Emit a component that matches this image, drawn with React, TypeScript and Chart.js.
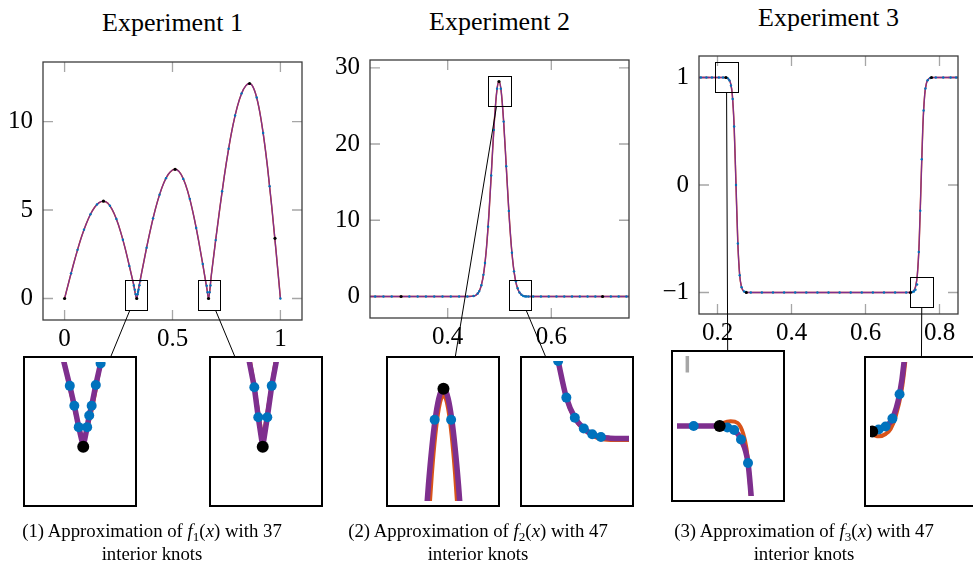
import React, { useEffect, useRef } from 'react';
import { Chart, registerables } from 'chart.js';

Chart.register(...registerables);

// ================= DATA =================
// ---- Experiment 1 : f1 ----
const E1_X = [0, 0.02, 0.04, 0.06, 0.08, 0.1, 0.12, 0.14, 0.16, 0.18, 0.2, 0.22, 0.24, 0.26, 0.28, 0.3, 0.32, 0.3343, 0.34, 0.36, 0.38, 0.4, 0.42, 0.44, 0.46, 0.48, 0.5, 0.512, 0.52, 0.54, 0.56, 0.58, 0.6, 0.62, 0.64, 0.66, 0.667, 0.68, 0.7, 0.72, 0.74, 0.76, 0.78, 0.8, 0.82, 0.84, 0.857, 0.88, 0.9, 0.92, 0.94, 0.96, 0.98, 1];
const E1_Y = [0, 0.95, 1.88, 2.75, 3.54, 4.21, 4.76, 5.17, 5.42, 5.5, 5.39, 5.04, 4.49, 3.75, 2.86, 1.84, 0.79, 0, 0.37, 1.64, 2.87, 4.01, 5.02, 5.87, 6.54, 7.01, 7.26, 7.3, 7.28, 7.01, 6.45, 5.63, 4.57, 3.33, 1.95, 0.5, 0, 1.33, 3.3, 5.17, 6.92, 8.46, 9.78, 10.83, 11.59, 12.03, 12.15, 11.76, 10.82, 9.35, 7.45, 5.17, 2.65, 0];
const E1_KNOT_X = [0.03, 0.06, 0.09, 0.12, 0.15, 0.21, 0.24, 0.27, 0.3, 0.3206, 0.3252, 0.3297, 0.3383, 0.3404, 0.3429, 0.3471, 0.352, 0.38, 0.41, 0.44, 0.47, 0.55, 0.58, 0.61, 0.64, 0.6587, 0.6627, 0.6718, 0.6763, 0.7, 0.73, 0.76, 0.79, 0.82, 0.89, 0.92, 0.95, 1];
const E1_KNOT_Y = [1.42, 2.75, 3.89, 4.76, 5.31, 5.24, 4.49, 3.32, 1.84, 0.74, 0.499, 0.238, 0.238, 0.38, 0.499, 0.751, 1.012, 2.87, 4.53, 5.87, 6.8, 6.76, 5.63, 3.98, 1.95, 0.722, 0.358, 0.358, 0.74, 3.3, 6.06, 8.46, 10.34, 11.59, 11.36, 9.35, 6.35, 0];
const E1_MARK_X = [0, 0.18, 0.3343, 0.512, 0.667, 0.857, 0.975];
const E1_MARK_Y = [0, 5.5, 0, 7.3, 0, 12.15, 3.4];
const E1_XRANGE = [-0.1, 1.1];
const E1_YRANGE = [-1.215, 13.365];
const E1_XTICKS = [0, 0.5, 1];
const E1_XLABELS = ['0', '0.5', '1'];
const E1_YTICKS = [0, 5, 10];
const E1_YLABELS = ['0', '5', '10'];

// zoom A of experiment 1
const E1A_XRANGE = [0.279, 0.383];
const E1A_YRANGE = [-0.66, 1.03];
const E1A_F_X = [0.3115, 0.3146, 0.3206, 0.3252, 0.3297, 0.3343, 0.3383, 0.3404, 0.3429, 0.3471, 0.352, 0.3545];
const E1A_F_Y = [1.2, 1.03, 0.74, 0.499, 0.238, 0, 0.238, 0.38, 0.499, 0.751, 1.012, 1.2];
const E1A_S_X = [0.3118, 0.3206, 0.3262, 0.3325, 0.3343, 0.3361, 0.3425, 0.348, 0.3545];
const E1A_S_Y = [1.2, 0.72, 0.42, 0.12, 0.07, 0.12, 0.42, 0.75, 1.2];
const E1A_KNOT_X = [0.3206, 0.3252, 0.3297, 0.3383, 0.3404, 0.3429, 0.3471, 0.352];
const E1A_KNOT_Y = [0.74, 0.499, 0.238, 0.238, 0.38, 0.499, 0.751, 1.012];
const E1A_MARK_X = [0.3343];
const E1A_MARK_Y = [0];

// zoom B of experiment 1
const E1B_XRANGE = [0.619, 0.722];
const E1B_YRANGE = [-0.66, 1.03];
const E1B_F_X = [0.651, 0.6537, 0.6587, 0.6627, 0.6672, 0.6718, 0.6763, 0.6808, 0.6835];
const E1B_F_Y = [1.25, 1.03, 0.722, 0.358, 0, 0.358, 0.74, 1.03, 1.25];
const E1B_S_X = [0.6515, 0.659, 0.6652, 0.6672, 0.6692, 0.6757, 0.683];
const E1B_S_Y = [1.25, 0.7, 0.22, 0.13, 0.22, 0.7, 1.25];
const E1B_KNOT_X = [0.6587, 0.6627, 0.6718, 0.6763];
const E1B_KNOT_Y = [0.722, 0.358, 0.358, 0.74];
const E1B_MARK_X = [0.6672];
const E1B_MARK_Y = [0];

// ---- Experiment 2 : f2 ----
const E2_X = [0.25, 0.3, 0.35, 0.4, 0.44, 0.45, 0.455, 0.46, 0.465, 0.47, 0.475, 0.48, 0.485, 0.49, 0.495, 0.499, 0.503, 0.508, 0.513, 0.518, 0.523, 0.528, 0.533, 0.538, 0.543, 0.548, 0.555, 0.56, 0.6, 0.65, 0.7, 0.75];
const E2_Y = [0, 0, 0, 0, 0, 0.06, 0.2, 0.58, 1.48, 3.3, 6.49, 11.23, 17.1, 22.94, 27.07, 28.2, 27.07, 22.94, 17.1, 11.23, 6.49, 3.3, 1.48, 0.58, 0.2, 0.06, 0, 0, 0, 0, 0, 0];
const E2_KNOT_X = [0.26, 0.276, 0.292, 0.326, 0.342, 0.358, 0.374, 0.39, 0.406, 0.422, 0.438, 0.45, 0.458, 0.461, 0.465, 0.469, 0.472, 0.478, 0.484, 0.489, 0.4954, 0.5025, 0.508, 0.513, 0.518, 0.524, 0.528, 0.5317, 0.5351, 0.5386, 0.5423, 0.5458, 0.5494, 0.552, 0.556, 0.565, 0.58, 0.595, 0.61, 0.625, 0.64, 0.655, 0.67, 0.685, 0.715, 0.73, 0.745];
const E2_KNOT_Y = [0, 0, 0, 0, 0, 0, 0, 0, 0, 0, 0, 0.06, 0.39, 0.71, 1.48, 2.84, 4.39, 9.16, 15.88, 21.85, 27.26, 27.26, 22.94, 17.1, 11.23, 5.73, 3.3, 2.0, 1.08, 0.52, 0.22, 0.06, 0, 0, 0, 0, 0, 0, 0, 0, 0, 0, 0, 0, 0, 0, 0];
const E2_MARK_X = [0.31, 0.499, 0.699];
const E2_MARK_Y = [0, 28.2, 0];
const E2_XRANGE = [0.25, 0.75];
const E2_YRANGE = [-2.82, 31.02];
const E2_XTICKS = [0.4, 0.6];
const E2_XLABELS = ['0.4', '0.6'];
const E2_YTICKS = [0, 10, 20, 30];
const E2_YLABELS = ['0', '10', '20', '30'];

const E2A_XRANGE = [0.477, 0.521];
const E2A_YRANGE = [24.95, 28.9];
const E2A_F_X = [0.4897, 0.4912, 0.4927, 0.4942, 0.4957, 0.4972, 0.4982, 0.4992, 0.5002, 0.5012, 0.5027, 0.5042, 0.5057, 0.5072, 0.5087];
const E2A_F_Y = [22.58, 24.07, 25.39, 26.47, 27.31, 27.87, 28.07, 28.14, 28.07, 27.87, 27.31, 26.47, 25.39, 24.07, 22.58];
const E2A_S_X = [0.4897, 0.4912, 0.4927, 0.4942, 0.4957, 0.4972, 0.4982, 0.4992, 0.5002, 0.5012, 0.5027, 0.5042, 0.5057, 0.5072, 0.5087];
const E2A_S_Y = [20.69, 22.58, 24.28, 25.72, 26.83, 27.58, 27.86, 27.95, 27.86, 27.58, 26.83, 25.72, 24.28, 22.58, 20.69];
const E2A_KNOT_X = [0.4954, 0.5025];
const E2A_KNOT_Y = [27.26, 27.26];
const E2A_MARK_X = [0.4992];
const E2A_MARK_Y = [28.14];

const E2B_XRANGE = [0.518, 0.561];
const E2B_YRANGE = [-1.83, 2.1];
const E2B_F_X = [0.5295, 0.5317, 0.5351, 0.5386, 0.5423, 0.5458, 0.5494, 0.553, 0.558, 0.565];
const E2B_F_Y = [2.8, 2.1, 1.08, 0.52, 0.22, 0.06, -0.02, -0.05, -0.06, -0.06];
const E2B_S_X = [0.5298, 0.532, 0.5355, 0.539, 0.543, 0.5465, 0.55, 0.555, 0.565];
const E2B_S_Y = [2.8, 2.0, 0.98, 0.45, 0.15, 0.0, -0.08, -0.1, -0.1];
const E2B_KNOT_X = [0.5317, 0.5351, 0.5386, 0.5423, 0.5458, 0.5494];
const E2B_KNOT_Y = [2.1, 1.08, 0.52, 0.22, 0.06, -0.02];
const E2B_MARK_X: number[] = [];
const E2B_MARK_Y: number[] = [];

// ---- Experiment 3 : f3 ----
const E3_X = [0.15, 0.2, 0.215, 0.22, 0.225, 0.23, 0.235, 0.24, 0.245, 0.25, 0.255, 0.26, 0.265, 0.27, 0.275, 0.28, 0.29, 0.5, 0.71, 0.72, 0.725, 0.73, 0.735, 0.74, 0.745, 0.75, 0.755, 0.76, 0.765, 0.77, 0.775, 0.78, 0.79, 0.85];
const E3_Y = [1, 1, 1, 0.999, 0.995, 0.985, 0.95, 0.84, 0.544, 0, -0.544, -0.84, -0.95, -0.985, -0.995, -0.999, -1, -1, -1, -0.999, -0.995, -0.985, -0.95, -0.84, -0.544, 0, 0.544, 0.84, 0.95, 0.985, 0.995, 0.999, 1, 1];
const E3_KNOT_X = [0.155, 0.17, 0.185, 0.2038, 0.215, 0.224, 0.2281, 0.2322, 0.2364, 0.241, 0.245, 0.25, 0.255, 0.26, 0.265, 0.272, 0.277, 0.29, 0.32, 0.35, 0.38, 0.41, 0.44, 0.47, 0.5, 0.53, 0.56, 0.59, 0.62, 0.65, 0.68, 0.71, 0.7268, 0.731, 0.7351, 0.7394, 0.744, 0.748, 0.752, 0.757, 0.762, 0.768, 0.775, 0.79, 0.81, 0.83, 0.845];
const E3_KNOT_Y = [1, 1, 1, 1, 1, 0.997, 0.992, 0.973, 0.926, 0.8, 0.544, 0, -0.544, -0.84, -0.95, -0.991, -0.996, -1, -1, -1, -1, -1, -1, -1, -1, -1, -1, -1, -1, -1, -1, -1, -0.996, -0.99, -0.974, -0.925, -0.623, -0.24, 0.24, 0.693, 0.898, 0.975, 0.995, 1, 1, 1, 1];
const E3_MARK_X = [0.2227, 0.278, 0.7216, 0.7784];
const E3_MARK_Y = [1, -1, -1, 1];
const E3_XRANGE = [0.15, 0.85];
const E3_YRANGE = [-1.2, 1.2];
const E3_XTICKS = [0.2, 0.4, 0.6, 0.8];
const E3_XLABELS = ['0.2', '0.4', '0.6', '0.8'];
const E3_YTICKS = [-1, 0, 1];
const E3_YLABELS = ['\u22121', '0', '1'];

const E3A_XRANGE = [0.1938, 0.255];
const E3A_YRANGE = [0.86, 1.14];
const E3A_F_X = [0.19, 0.2038, 0.2194, 0.224, 0.2281, 0.2322, 0.2364, 0.2383, 0.2392];
const E3A_F_Y = [1, 1, 1, 0.997, 0.992, 0.973, 0.926, 0.86, 0.82];
const E3A_S_X = [0.19, 0.218, 0.2213, 0.226, 0.2302, 0.2335, 0.2355, 0.237, 0.238, 0.2388];
const E3A_S_Y = [1, 1, 1.006, 1.0096, 1.006, 0.985, 0.955, 0.91, 0.86, 0.82];
const E3A_KNOT_X = [0.2038, 0.224, 0.2281, 0.2322, 0.2364];
const E3A_KNOT_Y = [1, 0.997, 0.992, 0.973, 0.926];
const E3A_MARK_X = [0.2194];
const E3A_MARK_Y = [1];

const E3B_XRANGE = [0.7216, 0.783];
const E3B_YRANGE = [-1.14, -0.86];
const E3B_F_X = [0.715, 0.7229, 0.7268, 0.731, 0.7351, 0.7394, 0.7421, 0.743];
const E3B_F_Y = [-1, -1, -0.996, -0.99, -0.974, -0.925, -0.86, -0.82];
const E3B_S_X = [0.715, 0.7229, 0.727, 0.731, 0.734, 0.737, 0.7405, 0.7428, 0.7438];
const E3B_S_Y = [-1, -1.006, -1.0098, -1.005, -0.995, -0.97, -0.92, -0.86, -0.82];
const E3B_KNOT_X = [0.7268, 0.731, 0.7351, 0.7394];
const E3B_KNOT_Y = [-0.996, -0.99, -0.974, -0.925];
const E3B_MARK_X = [0.7229];
const E3B_MARK_Y = [-1];

// ================= STYLE / LAYOUT =================
const PURPLE = '#7E2F8E';
const ORANGE = '#D95319';
const BLUE = '#0072BD';
const SERIF = '"Liberation Serif", "Times New Roman", serif';
const TICK_FONT = { family: SERIF, size: 25, lineHeight: 1.2 };

type Rect = { left: number; top: number; w: number; h: number };

const MAIN_RECTS: Rect[] = [
  { left: 43, top: 62, w: 259, h: 258 },
  { left: 370, top: 60, w: 259, h: 258 },
  { left: 699, top: 56, w: 259, h: 258 },
];
const INSET_RECTS: Rect[][] = [
  [{ left: 23, top: 356, w: 114, h: 151 }, { left: 209, top: 356, w: 114, h: 151 }],
  [{ left: 386, top: 356, w: 114, h: 151 }, { left: 520, top: 356, w: 114, h: 151 }],
  [{ left: 671, top: 350, w: 114, h: 152 }, { left: 864, top: 356, w: 114, h: 151 }],
];
const TITLE_BASE = [32, 30.5, 26.5];
const CAPTION_CX = [152, 478, 804];
const AX_W = 50, AX_H = 45, PAD_T = 28, PAD_R = 12;
const TICK_LEN = 10;

const PANELS: any[] = [
  {
    title: 'Experiment 1', fn: '1', knots: 37,
    main: [E1_X, E1_Y, E1_X, E1_Y, E1_KNOT_X, E1_KNOT_Y, E1_MARK_X, E1_MARK_Y],
    xr: E1_XRANGE, yr: E1_YRANGE, xt: E1_XTICKS, xl: E1_XLABELS, yt: E1_YTICKS, yl: E1_YLABELS,
    insets: [
      { xr: E1A_XRANGE, yr: E1A_YRANGE, smooth: false, s: [E1A_F_X, E1A_F_Y, E1A_S_X, E1A_S_Y, E1A_KNOT_X, E1A_KNOT_Y, E1A_MARK_X, E1A_MARK_Y] },
      { xr: E1B_XRANGE, yr: E1B_YRANGE, smooth: false, s: [E1B_F_X, E1B_F_Y, E1B_S_X, E1B_S_Y, E1B_KNOT_X, E1B_KNOT_Y, E1B_MARK_X, E1B_MARK_Y] },
    ],
  },
  {
    title: 'Experiment 2', fn: '2', knots: 47,
    main: [E2_X, E2_Y, E2_X, E2_Y, E2_KNOT_X, E2_KNOT_Y, E2_MARK_X, E2_MARK_Y],
    xr: E2_XRANGE, yr: E2_YRANGE, xt: E2_XTICKS, xl: E2_XLABELS, yt: E2_YTICKS, yl: E2_YLABELS,
    insets: [
      { xr: E2A_XRANGE, yr: E2A_YRANGE, smooth: true, s: [E2A_F_X, E2A_F_Y, E2A_S_X, E2A_S_Y, E2A_KNOT_X, E2A_KNOT_Y, E2A_MARK_X, E2A_MARK_Y] },
      { xr: E2B_XRANGE, yr: E2B_YRANGE, smooth: true, s: [E2B_F_X, E2B_F_Y, E2B_S_X, E2B_S_Y, E2B_KNOT_X, E2B_KNOT_Y, E2B_MARK_X, E2B_MARK_Y] },
    ],
  },
  {
    title: 'Experiment 3', fn: '3', knots: 47,
    main: [E3_X, E3_Y, E3_X, E3_Y, E3_KNOT_X, E3_KNOT_Y, E3_MARK_X, E3_MARK_Y],
    xr: E3_XRANGE, yr: E3_YRANGE, xt: E3_XTICKS, xl: E3_XLABELS, yt: E3_YTICKS, yl: E3_YLABELS,
    insets: [
      { xr: E3A_XRANGE, yr: E3A_YRANGE, smooth: true, s: [E3A_F_X, E3A_F_Y, E3A_S_X, E3A_S_Y, E3A_KNOT_X, E3A_KNOT_Y, E3A_MARK_X, E3A_MARK_Y] },
      { xr: E3B_XRANGE, yr: E3B_YRANGE, smooth: true, s: [E3B_F_X, E3B_F_Y, E3B_S_X, E3B_S_Y, E3B_KNOT_X, E3B_KNOT_Y, E3B_MARK_X, E3B_MARK_Y] },
    ],
  },
];

const pts = (xs: number[], ys: number[]) => xs.map((x, i) => ({ x, y: ys[i] }));

function makeSets(s: number[][], big: boolean, smooth: boolean) {
  const [fx, fy, sx, sy, kx, ky, mx, my] = s;
  const lineMode: any = smooth ? { cubicInterpolationMode: 'monotone' } : { tension: 0 };
  const joins: any = { borderJoinStyle: 'round', borderCapStyle: 'round' };
  return [
    { data: pts(mx, my), showLine: false, pointRadius: big ? 6 : 1.6, pointBackgroundColor: '#000', pointBorderWidth: 0, clip: 0 },
    { data: pts(kx, ky), showLine: false, pointRadius: big ? 5 : 1.2, pointBackgroundColor: BLUE, pointBorderWidth: 0, clip: 0 },
    { data: pts(fx, fy), borderColor: PURPLE, borderWidth: big ? 5.5 : 1.3, pointRadius: 0, fill: false, clip: 0, ...joins, ...lineMode },
    { data: pts(sx, sy), borderColor: ORANGE, borderWidth: big ? 4 : 1.5, pointRadius: 0, fill: false, clip: 0, ...joins, ...lineMode },
  ];
}

function mainDeco(xt: number[], yt: number[]) {
  return {
    id: 'mainDeco',
    beforeDatasetsDraw(chart: any) {
      const { ctx, chartArea: a, scales } = chart;
      ctx.save();
      ctx.strokeStyle = '#a6a6a6';
      ctx.lineWidth = 1.3;
      ctx.beginPath();
      xt.forEach((v) => {
        const p = scales.x.getPixelForValue(v);
        ctx.moveTo(p, a.top); ctx.lineTo(p, a.top + TICK_LEN);
        ctx.moveTo(p, a.bottom); ctx.lineTo(p, a.bottom - TICK_LEN);
      });
      yt.forEach((v) => {
        const p = scales.y.getPixelForValue(v);
        ctx.moveTo(a.left, p); ctx.lineTo(a.left + TICK_LEN, p);
        ctx.moveTo(a.right, p); ctx.lineTo(a.right - TICK_LEN, p);
      });
      ctx.stroke();
      ctx.restore();
    },
    afterDatasetsDraw(chart: any) {
      const { ctx, chartArea: a } = chart;
      ctx.save();
      ctx.strokeStyle = '#3c3c3c';
      ctx.lineWidth = 1.3;
      ctx.strokeRect(a.left, a.top, a.right - a.left, a.bottom - a.top);
      ctx.restore();
    },
  };
}

function insetDeco(p: any, mr: Rect) {
  return {
    id: 'insetDeco',
    beforeDatasetsDraw(chart: any) {
      const { ctx, chartArea: a, scales } = chart;
      const X = scales.x, Y = scales.y;
      const dx = (TICK_LEN * (p.xr[1] - p.xr[0])) / mr.w;
      const dy = (TICK_LEN * (p.yr[1] - p.yr[0])) / mr.h;
      ctx.save();
      ctx.beginPath();
      ctx.rect(a.left, a.top, a.right - a.left, a.bottom - a.top);
      ctx.clip();
      ctx.strokeStyle = '#a6a6a6';
      ctx.lineWidth = 3.5;
      ctx.beginPath();
      const seg = (x0: number, y0: number, x1: number, y1: number) => {
        ctx.moveTo(X.getPixelForValue(x0), Y.getPixelForValue(y0));
        ctx.lineTo(X.getPixelForValue(x1), Y.getPixelForValue(y1));
      };
      p.xt.forEach((v: number) => { seg(v, p.yr[1], v, p.yr[1] - dy); seg(v, p.yr[0], v, p.yr[0] + dy); });
      p.yt.forEach((v: number) => { seg(p.xr[0], v, p.xr[0] + dx, v); seg(p.xr[1], v, p.xr[1] - dx, v); });
      ctx.stroke();
      ctx.restore();
    },
    afterDraw(chart: any) {
      const { ctx, width, height } = chart;
      ctx.save();
      ctx.strokeStyle = '#000';
      ctx.lineWidth = 2;
      ctx.strokeRect(1, 1, width - 2, height - 2);
      ctx.restore();
    },
  };
}

function exitT(r: Rect, px: number, py: number, dx: number, dy: number) {
  let t = Infinity;
  if (dx > 0) t = Math.min(t, (r.left + r.w - px) / dx);
  if (dx < 0) t = Math.min(t, (r.left - px) / dx);
  if (dy > 0) t = Math.min(t, (r.top + r.h - py) / dy);
  if (dy < 0) t = Math.min(t, (r.top - py) / dy);
  return t;
}

export default function App() {
  const mainRefs = useRef<(HTMLCanvasElement | null)[]>([]);
  const insetRefs = useRef<(HTMLCanvasElement | null)[]>([]);
  const overlayRef = useRef<HTMLCanvasElement | null>(null);

  useEffect(() => {
    const charts: Chart[] = [];
    const mains: any[] = [];
    PANELS.forEach((p, i) => {
      const cv = mainRefs.current[i]!;
      const ch = new Chart(cv, {
        type: 'line',
        data: { datasets: makeSets(p.main, false, true) as any },
        options: {
          responsive: false,
          animation: false,
          events: [],
          layout: { padding: { top: PAD_T, right: PAD_R, left: 0, bottom: 0 } },
          plugins: { legend: { display: false }, tooltip: { enabled: false } },
          scales: {
            x: {
              type: 'linear', min: p.xr[0], max: p.xr[1], bounds: 'data',
              grid: { display: false, drawTicks: false }, border: { display: false },
              afterBuildTicks: (s: any) => { s.ticks = p.xt.map((v: number) => ({ value: v })); },
              afterFit: (s: any) => { s.height = AX_H; },
              ticks: {
                autoSkip: false, maxRotation: 0, minRotation: 0, padding: 4, color: '#000', font: TICK_FONT,
                callback: (v: any) => { const k = p.xt.indexOf(v); return k >= 0 ? p.xl[k] : ''; },
              },
            },
            y: {
              type: 'linear', min: p.yr[0], max: p.yr[1], bounds: 'data',
              grid: { display: false, drawTicks: false }, border: { display: false },
              afterBuildTicks: (s: any) => { s.ticks = p.yt.map((v: number) => ({ value: v })); },
              afterFit: (s: any) => { s.width = AX_W; },
              ticks: {
                autoSkip: false, padding: 10, color: '#000', font: TICK_FONT,
                callback: (v: any) => { const k = p.yt.indexOf(v); return k >= 0 ? p.yl[k] : ''; },
              },
            },
          },
        } as any,
        plugins: [mainDeco(p.xt, p.yt)],
      });
      charts.push(ch);
      mains.push(ch);

      p.insets.forEach((ins: any, j: number) => {
        const icv = insetRefs.current[i * 2 + j]!;
        const ich = new Chart(icv, {
          type: 'line',
          data: { datasets: makeSets(ins.s, true, ins.smooth) as any },
          options: {
            responsive: false,
            animation: false,
            events: [],
            layout: { padding: 0 },
            plugins: { legend: { display: false }, tooltip: { enabled: false } },
            scales: {
              x: { type: 'linear', display: false, min: ins.xr[0], max: ins.xr[1], bounds: 'data' },
              y: { type: 'linear', display: false, min: ins.yr[0], max: ins.yr[1], bounds: 'data' },
            },
          } as any,
          plugins: [insetDeco(p, MAIN_RECTS[i])],
        });
        charts.push(ich);
      });
    });

    // spy boxes + connectors
    const ov = overlayRef.current!.getContext('2d')!;
    ov.clearRect(0, 0, 973, 565);
    ov.strokeStyle = '#000';
    ov.lineWidth = 1;
    PANELS.forEach((p, i) => {
      const ch = mains[i];
      const r = MAIN_RECTS[i];
      const cl = r.left - AX_W, ct = r.top - PAD_T;
      p.insets.forEach((ins: any, j: number) => {
        const x0 = cl + ch.scales.x.getPixelForValue(ins.xr[0]);
        const x1 = cl + ch.scales.x.getPixelForValue(ins.xr[1]);
        const y0 = ct + ch.scales.y.getPixelForValue(ins.yr[1]);
        const y1 = ct + ch.scales.y.getPixelForValue(ins.yr[0]);
        const box: Rect = { left: x0, top: y0, w: x1 - x0, h: y1 - y0 };
        ov.strokeRect(Math.round(x0) + 0.5, Math.round(y0) + 0.5, Math.round(x1 - x0), Math.round(y1 - y0));
        const ir = INSET_RECTS[i][j];
        const c0x = box.left + box.w / 2, c0y = box.top + box.h / 2;
        const c1x = ir.left + ir.w / 2, c1y = ir.top + ir.h / 2;
        const dx = c1x - c0x, dy = c1y - c0y;
        const ta = exitT(box, c0x, c0y, dx, dy);
        const tb = exitT(ir, c1x, c1y, -dx, -dy);
        ov.beginPath();
        ov.moveTo(c0x + dx * ta, c0y + dy * ta);
        ov.lineTo(c1x - dx * tb, c1y - dy * tb);
        ov.stroke();
      });
    });

    return () => {
      charts.forEach((c) => c.destroy());
    };
  }, []);

  return (
    <div style={{ position: 'fixed', left: 0, top: 0, width: 973, height: 565, overflow: 'hidden', background: '#fff', fontFamily: SERIF, color: '#000' }}>
      {PANELS.map((p, i) => {
        const r = MAIN_RECTS[i];
        const cx = r.left + r.w / 2;
        return (
          <div key={'t' + i} style={{ position: 'absolute', left: cx - 150, width: 300, top: TITLE_BASE[i] - 21.8, fontSize: 26, lineHeight: '26px', textAlign: 'center', whiteSpace: 'nowrap' }}>
            {p.title}
          </div>
        );
      })}
      {PANELS.map((p, i) => {
        const r = MAIN_RECTS[i];
        const w = AX_W + r.w + PAD_R, h = PAD_T + r.h + AX_H;
        return (
          <canvas key={'m' + i} ref={(el) => { mainRefs.current[i] = el; }} width={w} height={h}
            style={{ position: 'absolute', left: r.left - AX_W, top: r.top - PAD_T, width: w, height: h }} />
        );
      })}
      {INSET_RECTS.flat().map((ir, k) => (
        <canvas key={'i' + k} ref={(el) => { insetRefs.current[k] = el; }} width={ir.w} height={ir.h}
          style={{ position: 'absolute', left: ir.left, top: ir.top, width: ir.w, height: ir.h }} />
      ))}
      <canvas ref={overlayRef} width={973} height={565} style={{ position: 'absolute', left: 0, top: 0, width: 973, height: 565, pointerEvents: 'none' }} />
      {PANELS.map((p, i) => (
        <div key={'c' + i} style={{ position: 'absolute', left: CAPTION_CX[i] - 170, width: 340, top: 519.7, fontSize: 18.8, lineHeight: '21.6px', textAlign: 'center' }}>
          ({i + 1}) Approximation of <i>f</i>
          <span style={{ fontSize: '0.7em', position: 'relative', top: '0.3em' }}>{p.fn}</span>(<i>x</i>) with {p.knots}
          <br />
          interior knots
        </div>
      ))}
    </div>
  );
}
